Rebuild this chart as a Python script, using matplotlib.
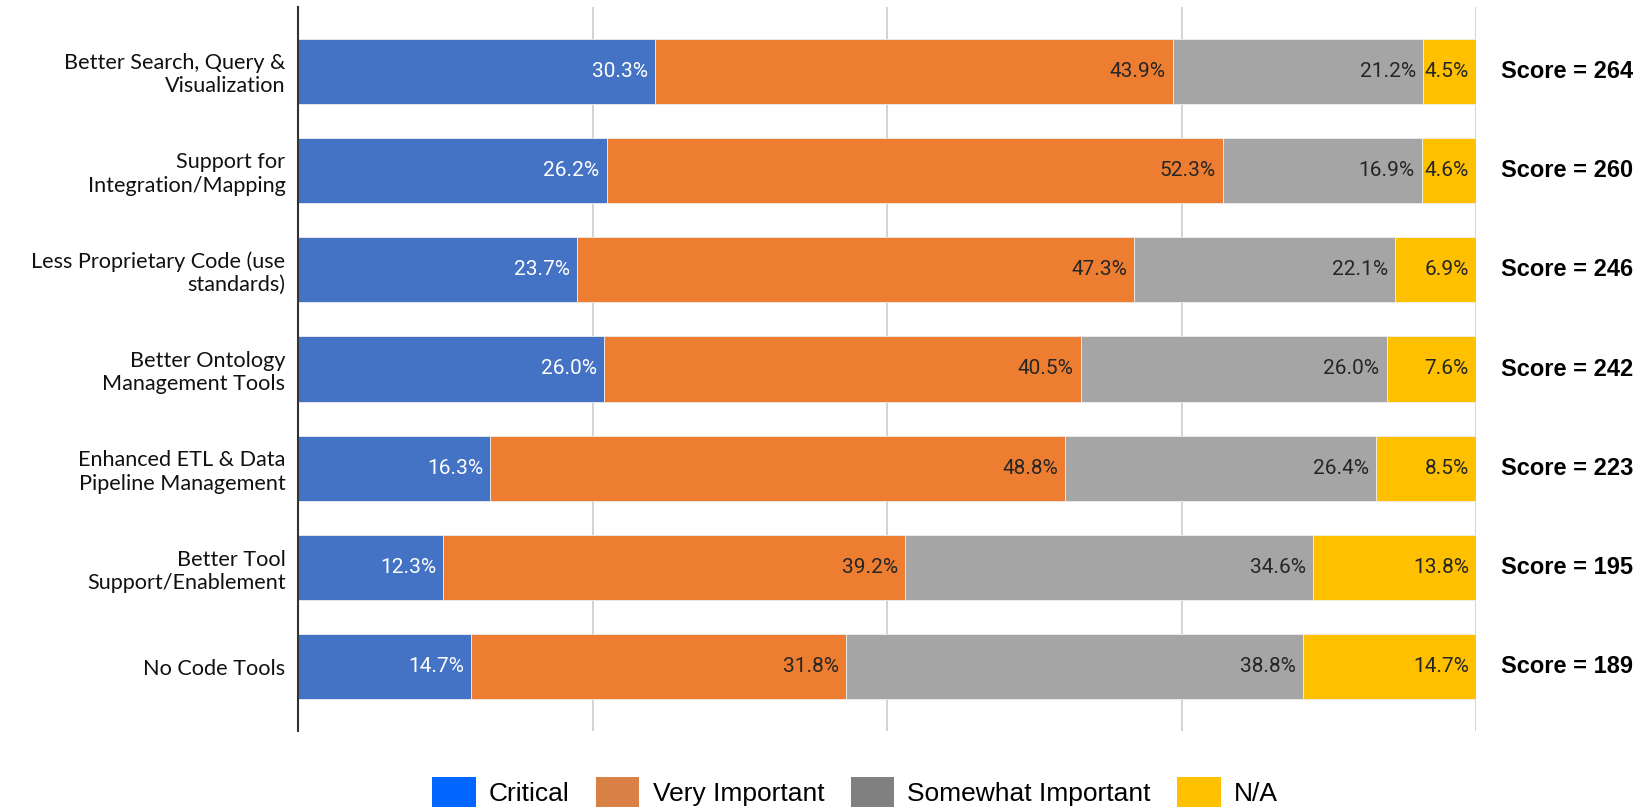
import matplotlib
matplotlib.use("Agg")
import matplotlib.pyplot as plt
from matplotlib.patches import Patch
import numpy as np

categories = [
    "Better Search, Query &\nVisualization",
    "Support for\nIntegration/Mapping",
    "Less Proprietary Code (use\nstandards)",
    "Better Ontology\nManagement Tools",
    "Enhanced ETL & Data\nPipeline Management",
    "Better Tool\nSupport/Enablement",
    "No Code Tools",
]
series = ["Critical", "Very Important", "Somewhat Important", "N/A"]
critical = [30.3, 26.2, 23.7, 26.0, 16.3, 12.3, 14.7]
very_important = [43.9, 52.3, 47.3, 40.5, 48.8, 39.2, 31.8]
somewhat_important = [21.2, 16.9, 22.1, 26.0, 26.4, 34.6, 38.8]
na = [4.5, 4.6, 6.9, 7.6, 8.5, 13.8, 14.7]
scores = [264, 260, 246, 242, 223, 195, 189]

bar_colors = ["#4472C4", "#ED7D31", "#A5A5A5", "#FFC000"]
legend_colors = ["#0066FF", "#D98046", "#808080", "#FFC000"]
text_colors = ["white", "#262626", "#262626", "#262626"]

data = np.array([critical, very_important, somewhat_important, na])
# stretch each row to fill 100% like the original chart
data_draw = data / data.sum(axis=0) * 100

fig = plt.figure(figsize=(16.38, 8.07), dpi=100)
ax = fig.add_axes([298 / 1638, 1 - 731 / 807, 1178 / 1638, 724 / 807])

y = np.arange(len(categories))
left = np.zeros(len(categories))
for i in range(len(series)):
    ax.barh(y, data_draw[i], left=left, height=0.655, color=bar_colors[i],
            edgecolor="#EEEEEE", linewidth=0.6, zorder=2)
    for j in range(len(categories)):
        ax.text(left[j] + data_draw[i][j] - 0.6, y[j], f"{data[i][j]:.1f}%",
                ha="right", va="center", fontsize=15, family="Roboto",
                color=text_colors[i], zorder=3)
    left += data_draw[i]

for j, s in enumerate(scores):
    ax.text(107.7, y[j], f"Score = {s}", ha="center", va="center",
            fontsize=17, fontweight="bold", family="Liberation Sans", clip_on=False)

ax.set_xlim(0, 100)
ax.set_ylim(len(categories) - 1 + 0.645, -0.645)
ax.set_yticks(y)
ax.set_yticklabels(categories, fontsize=15.6, family="Lato", color="#111111")
ax.tick_params(axis="y", length=0, pad=9)
ax.set_xticks([0, 25, 50, 75, 100])
ax.set_xticklabels([])
ax.tick_params(axis="x", length=0)
ax.grid(axis="x", color="#CCCCCC", linewidth=1.2, zorder=0)
for side in ["top", "right", "bottom"]:
    ax.spines[side].set_visible(False)
ax.spines["left"].set_color("#333333")
ax.spines["left"].set_linewidth(1.5)
ax.spines["left"].set_zorder(4)

handles = [Patch(facecolor=c, label=s) for c, s in zip(legend_colors, series)]
fig.legend(handles=handles, loc="center", bbox_to_anchor=(855 / 1638, 1 - 792 / 807),
           ncol=4, frameon=False, prop={"family": "Liberation Sans", "size": 19},
           handlelength=1.65, handleheight=1.35, handletextpad=0.5, columnspacing=1.0)

fig.savefig("out.png", dpi=100)
